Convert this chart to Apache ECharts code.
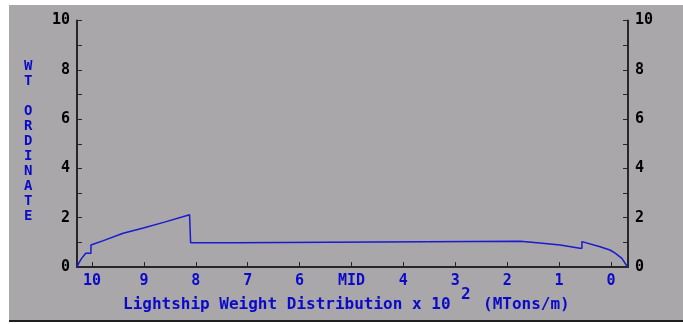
<!DOCTYPE html>
<html>
<head>
<meta charset="utf-8">
<script src="https://cdn.jsdelivr.net/npm/echarts@6/dist/echarts.min.js"></script>
<style>
  html, body { margin: 0; padding: 0; background: #ffffff; }
  #chart { width: 683px; height: 324px; }
</style>
</head>
<body>
<div id="chart"></div>
<script>
// Station positions along the hull (10 = bow end, 0 = stern end, 5 = midships)
const stations = [10.29, 10.25, 10.20, 10.12, 10.02, 10.02, 9.78, 9.40, 9.01, 8.62, 8.12, 8.10, 8.10, 7.26, 7.26, 1.75, 1.37, 0.98, 0.60, 0.56, 0.56, 0.21, 0.02, -0.08, -0.21, -0.32];
// Lightship weight per unit length at each station (x 10^2 MTons/m)
const weights  = [0.00, 0.18, 0.35, 0.56, 0.56, 0.89, 1.07, 1.37, 1.58, 1.81, 2.12, 2.12, 0.98, 0.98, 1.04, 1.04, 0.97, 0.89, 0.76, 0.76, 1.03, 0.82, 0.69, 0.56, 0.35, 0.00];
// Labelled stations on the horizontal axis
const stationTicks = [0, 1, 2, 3, 4, 5, 6, 7, 8, 9, 10];
const midLabel = 'MID';
// Ordinate ticks and labels
const ordinateLabels = [0, 2, 4, 6, 8, 10];

const FONT = 'DejaVu Sans Mono';
const BLUE = '#0a0ac8';
const AXIS = '#262626';

const seriesData = stations.map((s, i) => [s, weights[i]]);

const chart = echarts.init(document.getElementById('chart'), null, { renderer: 'canvas' });

function yAxisDef(position) {
  return {
    type: 'value',
    position: position,
    min: 0,
    max: 10,
    interval: 1,
    axisLine: { show: true, onZero: false, lineStyle: { color: AXIS, width: 2 } },
    axisTick: { show: true, inside: true, length: 5, lineStyle: { color: AXIS, width: 1 } },
    axisLabel: {
      show: true,
      margin: 7,
      color: '#000000',
      fontFamily: FONT,
      fontWeight: 'bold',
      fontSize: 15,
      formatter: v => (ordinateLabels.indexOf(v) >= 0 ? String(v) : '')
    },
    splitLine: { show: false }
  };
}

chart.setOption({
  animation: false,
  backgroundColor: '#ffffff',
  graphic: [
    { type: 'rect', z: -10, shape: { x: 9, y: 5, width: 674, height: 315 }, style: { fill: '#a9a7a9' } },
    { type: 'rect', z: -10, shape: { x: 9, y: 320, width: 674, height: 2 }, style: { fill: '#1e1e1e' } },
    {
      type: 'text', left: 24, top: 59,
      style: {
        text: 'W\nT\n\nO\nR\nD\nI\nN\nA\nT\nE',
        fill: BLUE, font: 'bold 14px "' + FONT + '"',
        lineHeight: 15, align: 'center', width: 12
      }
    },
    {
      type: 'text', x: 123, y: 305,
      style: {
        text: 'Lightship Weight Distribution x 10',
        fill: BLUE, font: 'bold 16px "' + FONT + '"',
        verticalAlign: 'middle', align: 'left'
      }
    },
    {
      type: 'text', x: 461, y: 295,
      style: { text: '2', fill: BLUE, font: 'bold 16px "' + FONT + '"', verticalAlign: 'middle', align: 'left' }
    },
    {
      type: 'text', x: 483, y: 305,
      style: { text: '(MTons/m)', fill: BLUE, font: 'bold 16px "' + FONT + '"', verticalAlign: 'middle', align: 'left' }
    }
  ],
  grid: { left: 77, right: 55, top: 20.5, bottom: 57, containLabel: false },
  xAxis: {
    type: 'value',
    inverse: true,
    min: -0.328,
    max: 10.289,
    axisLine: { show: true, onZero: false, lineStyle: { color: AXIS, width: 2 } },
    axisTick: { show: true, inside: true, length: 5, customValues: stationTicks, lineStyle: { color: AXIS, width: 1 } },
    axisLabel: {
      show: true,
      margin: 7,
      customValues: stationTicks,
      color: BLUE,
      fontFamily: FONT,
      fontWeight: 'bold',
      fontSize: 15,
      formatter: v => (v === 5 ? midLabel : String(v))
    },
    splitLine: { show: false }
  },
  yAxis: [yAxisDef('left'), yAxisDef('right')],
  series: [{
    type: 'line',
    data: seriesData,
    showSymbol: false,
    symbol: 'none',
    lineStyle: { color: '#1a1ad0', width: 1.5 },
    z: 3
  }]
});
</script>
</body>
</html>
